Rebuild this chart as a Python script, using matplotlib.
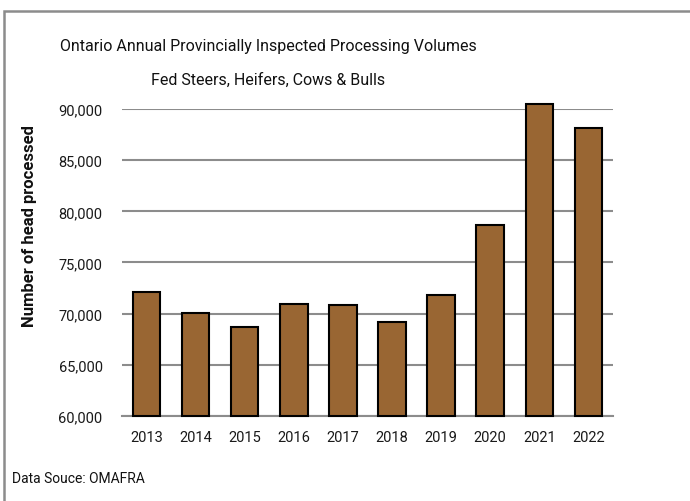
import matplotlib
matplotlib.use("Agg")
import matplotlib.pyplot as plt
from matplotlib.patches import Rectangle
from matplotlib.ticker import FuncFormatter

plt.rcParams['font.family'] = ['Roboto', 'DejaVu Sans']

years = ["2013", "2014", "2015", "2016", "2017", "2018", "2019", "2020", "2021", "2022"]
head_processed = [72100, 70100, 68650, 70950, 70850, 69200, 71800, 78650, 90450, 88150]
y_ticks = [60000, 65000, 70000, 75000, 80000, 85000, 90000]
y_min = y_ticks[0]

fig = plt.figure(figsize=(6.9, 5.02), dpi=100)
ax = fig.add_axes([0.1768, 0.1693, 0.7116, 0.6116])

# grey frame round the chart (left and top edges show)
fig.patches.append(Rectangle((4 / 690, -0.1), 1.2, 1 - 12 / 502 + 0.1,
                             transform=fig.transFigure, fill=False,
                             edgecolor='#8c8c8c', linewidth=1.8))

# bars start at the axis floor, 2021 pokes above the top gridline
ax.bar(range(len(years)), [v - y_min for v in head_processed], bottom=y_min,
       width=0.56, color='#996633', edgecolor='black', linewidth=1.5,
       clip_on=False, zorder=3)

ax.set_ylim(y_min, y_ticks[-1])
ax.set_xlim(-0.5, len(years) - 0.5)
ax.set_yticks(y_ticks)
ax.yaxis.set_major_formatter(FuncFormatter(lambda v, p: f"{int(v):,}"))
ax.set_xticks(range(len(years)))
ax.set_xticklabels(years)
ax.grid(axis='y', color='#8c8c8c', linewidth=1.5, zorder=0)
ax.set_axisbelow(True)
for s in ['top', 'right', 'left']:
    ax.spines[s].set_visible(False)
ax.spines['bottom'].set_color('#8c8c8c')
ax.spines['bottom'].set_linewidth(1.5)
ax.tick_params(axis='both', length=0, labelsize=10.5, colors='#1a1a1a')
ax.tick_params(axis='y', pad=14)
ax.tick_params(axis='x', pad=10)

fig.text(268 / 690, 1 - 47 / 502, "Ontario Annual Provincially Inspected Processing Volumes",
         ha='center', va='center', fontsize=11.5, color='#111111')
fig.text(268 / 690, 1 - 80 / 502, "Fed Steers, Heifers, Cows & Bulls",
         ha='center', va='center', fontsize=11.5, color='#111111')
fig.text(30 / 690, 1 - 226 / 502, "Number of head processed", rotation=90,
         ha='center', va='center', fontsize=12, fontweight='bold', color='#111111')
fig.text(12 / 690, 1 - 479 / 502, "Data Souce: OMAFRA", ha='left', va='center',
         fontsize=10, color='#111111')

fig.savefig("out.png", dpi=100)
